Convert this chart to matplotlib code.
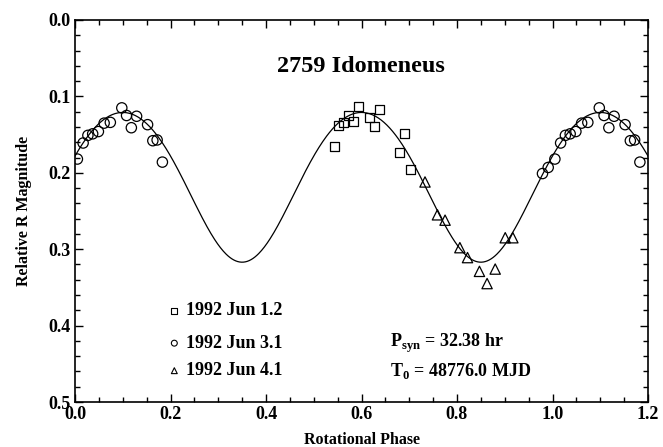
import numpy as np
import matplotlib
matplotlib.use("Agg")
import matplotlib.pyplot as plt
from matplotlib.ticker import MultipleLocator

# --- data ---
# 1992 Jun 1.2 (squares)
sq_phase = [0.543, 0.551, 0.562, 0.572, 0.584, 0.594, 0.616, 0.628, 0.637, 0.679, 0.690, 0.702]
sq_mag   = [0.166, 0.138, 0.134, 0.125, 0.133, 0.113, 0.127, 0.140, 0.117, 0.174, 0.148, 0.196]
# 1992 Jun 3.1 (circles), plotted at phase and phase+1
ci_phase = [0.979, 0.991, 0.005, 0.017, 0.027, 0.037, 0.049, 0.061, 0.074, 0.098,
            0.108, 0.118, 0.129, 0.152, 0.163, 0.172, 0.183]
ci_mag   = [0.201, 0.193, 0.182, 0.161, 0.151, 0.149, 0.146, 0.135, 0.134, 0.115,
            0.125, 0.141, 0.126, 0.137, 0.158, 0.157, 0.186]
# 1992 Jun 4.1 (triangles)
tr_phase = [0.733, 0.759, 0.775, 0.806, 0.822, 0.847, 0.863, 0.880, 0.901, 0.917]
tr_mag   = [0.212, 0.255, 0.262, 0.298, 0.311, 0.329, 0.345, 0.326, 0.285, 0.285]

# Fourier fit coefficients: mean, 2nd harmonic amp, 4th harmonic amp, epoch of max
fit_mean = 0.2131
fit_a2 = 0.098
fit_a4 = 0.0059
fit_phi0 = 0.10

legend_labels = ["1992 Jun 1.2", "1992 Jun 3.1", "1992 Jun 4.1"]

plt.rcParams['font.family'] = ['Liberation Serif', 'DejaVu Serif']
plt.rcParams['mathtext.fontset'] = 'custom'
plt.rcParams['mathtext.rm'] = 'Liberation Serif:bold'
plt.rcParams['mathtext.bf'] = 'Liberation Serif:bold'

fig = plt.figure(figsize=(6.63, 4.47), dpi=100)
ax = fig.add_axes([75/663, 1 - 402/447, (648-75)/663, (402-20)/447])

phi = np.linspace(0, 1.2, 600)
curve = (fit_mean - fit_a2*np.cos(4*np.pi*(phi - fit_phi0))
         + fit_a4*np.cos(8*np.pi*(phi - fit_phi0)))
ax.plot(phi, curve, color='black', lw=0.9)

ax.scatter(sq_phase, sq_mag, marker='s', s=42, facecolor='none', edgecolor='black', linewidths=0.9)
ci_p = np.array(ci_phase)
ax.scatter(ci_p, ci_mag, marker='o', s=55, facecolor='none', edgecolor='black', linewidths=0.9)
ax.scatter(ci_p + 1, ci_mag, marker='o', s=55, facecolor='none', edgecolor='black', linewidths=0.9)
ax.scatter(tr_phase, tr_mag, marker='^', s=55, facecolor='none', edgecolor='black', linewidths=0.9)

# legend
leg_y = [0.3805, 0.423, 0.459]
leg_m = ['s', 'o', '^']
for y, m, lab in zip(leg_y, leg_m, legend_labels):
    ax.scatter([0.208], [y], marker=m, s=18, facecolor='none', edgecolor='black', linewidths=0.8)
    ax.text(0.233, y, lab, fontsize=13, fontweight='bold', va='center', ha='left')

ax.text(0.66, 0.423, r'P$_{\mathrm{syn}}$ = 32.38 hr', fontsize=13, fontweight='bold', va='center')
ax.text(0.66, 0.459, r'T$_{\mathrm{0}}$ = 48776.0 MJD', fontsize=13, fontweight='bold', va='center')

ax.text(0.599, 0.061, '2759 Idomeneus', fontsize=17.5, fontweight='bold', ha='center', va='center')

ax.set_xlim(0, 1.2)
ax.set_ylim(0.5, 0.0)
ax.xaxis.set_major_locator(MultipleLocator(0.2))
ax.xaxis.set_minor_locator(MultipleLocator(0.05))
ax.yaxis.set_major_locator(MultipleLocator(0.1))
ax.yaxis.set_minor_locator(MultipleLocator(0.02))
ax.tick_params(which='both', direction='in', top=True, right=True, width=1.0)
ax.tick_params(which='major', length=6, labelsize=13, pad=3)
ax.tick_params(which='minor', length=3.5)
for lab in ax.get_xticklabels() + ax.get_yticklabels():
    lab.set_fontweight('bold')
for s in ax.spines.values():
    s.set_linewidth(1.2)

ax.set_xlabel('Rotational Phase', fontsize=11.5, fontweight='bold', labelpad=6)
ax.set_ylabel('Relative R Magnitude', fontsize=11.5, fontweight='bold', labelpad=12)

fig.savefig('out.png', dpi=100)
